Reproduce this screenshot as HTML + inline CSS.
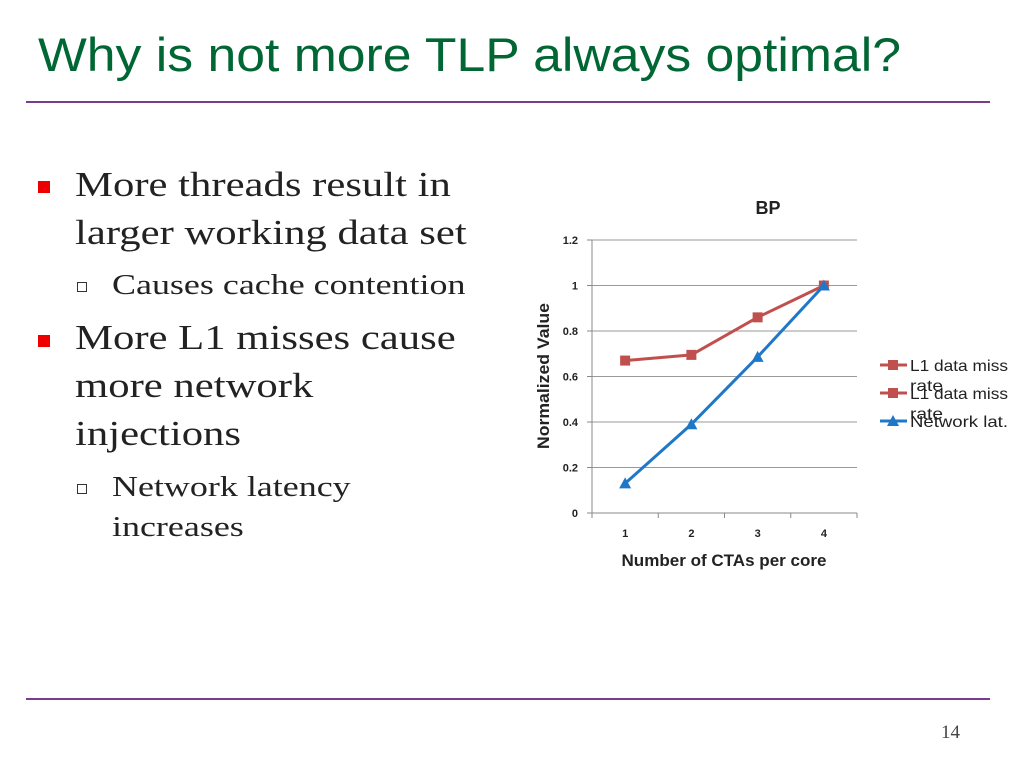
<!DOCTYPE html>
<html><head><meta charset="utf-8">
<style>
body{margin:0;width:1024px;height:768px;background:#fff;position:relative;overflow:hidden;font-family:"Liberation Serif",serif}
.t{position:absolute;color:#006633;font-family:"Liberation Sans",sans-serif;font-size:47px;left:38px;top:27px;white-space:nowrap;transform-origin:left top;transform:scaleX(1.1)}
.hr{position:absolute;left:26px;width:964px;height:2px;background:#7a3b8f}
.b{position:absolute;font-size:35px;color:#222;line-height:48px;white-space:nowrap;transform-origin:left top;transform:scaleX(1.22)}
.s{position:absolute;font-size:29px;color:#222;line-height:40px;white-space:nowrap;transform-origin:left top;transform:scaleX(1.24)}
.sq{position:absolute;width:12px;height:12px;background:#e00}
.sq2{position:absolute;width:8px;height:8px;border:1px solid #333}
</style></head><body>
<div class="t">Why is not more TLP always optimal?</div>
<div class="hr" style="top:101px"></div>
<div class="sq" style="left:38px;top:181px"></div>
<div class="b" style="left:75px;top:161px">More threads result in<br>larger working data set</div>
<div class="sq2" style="left:77px;top:282px"></div>
<div class="s" style="left:112px;top:265px">Causes cache contention</div>
<div class="sq" style="left:38px;top:335px"></div>
<div class="b" style="left:75px;top:314px">More L1 misses cause<br>more network<br>injections</div>
<div class="sq2" style="left:77px;top:484px"></div>
<div class="s" style="left:112px;top:467px">Network latency<br>increases</div>
<svg id="c" width="1024" height="768" style="position:absolute;left:0;top:0" font-family="Liberation Sans, sans-serif"></svg>
<div class="hr" style="top:698px"></div>
<div style="position:absolute;left:941px;top:722px;font-size:19px;color:#444">14</div>
<script>
const categories=["1","2","3","4"];
const l1Miss=[0.67,0.695,0.86,1.0];
const netLat=[0.13,0.39,0.686,1.0];
const yTicks=[0,0.2,0.4,0.6,0.8,1,1.2];
const yTickLabels=["0","0.2","0.4","0.6","0.8","1","1.2"];
const svg=document.getElementById('c');const NS='http://www.w3.org/2000/svg';
const L=592,R=857,T=240,B=513,yMax=1.2;
const x=i=>L+(R-L)/categories.length*(i+0.5);
const y=v=>B-(B-T)*v/yMax;
function mk(t,a,p){const e=document.createElementNS(NS,t);for(const k in a)e.setAttribute(k,a[k]);(p||svg).appendChild(e);return e;}
yTicks.forEach((v,i)=>{
 const g=mk('line',{x1:L,x2:R,y1:y(v),y2:y(v),stroke:i==0?'#888':'#999','stroke-width':1});
 
 mk('line',{x1:L-5,x2:L,y1:y(v),y2:y(v),stroke:'#888'});
 const t=mk('text',{x:L-14,y:y(v)+4,'font-size':11,'font-weight':'bold','text-anchor':'end',fill:'#222'});t.textContent=yTickLabels[i];
 
});
mk('line',{x1:L,x2:L,y1:T,y2:B,stroke:'#888'});
for(let i=0;i<=categories.length;i++){const xx=L+(R-L)/categories.length*i;mk('line',{x1:xx,x2:xx,y1:B,y2:B+5,stroke:'#888'});}
categories.forEach((c,i)=>{const t=mk('text',{x:x(i),y:537,'font-size':11,'font-weight':'bold','text-anchor':'middle',fill:'#222'});t.textContent=c;
 });
let t=mk('text',{x:768,y:214,'font-size':18,'font-weight':'bold','text-anchor':'middle',fill:'#222'});t.textContent='BP';

t=mk('text',{x:724,y:566,'font-size':17,'font-weight':'bold','text-anchor':'middle',fill:'#222',textLength:205,lengthAdjust:'spacingAndGlyphs'});t.textContent='Number of CTAs per core';

t=mk('text',{x:549,y:376,'font-size':17,'font-weight':'bold','text-anchor':'middle',fill:'#222',transform:'rotate(-90 549 376)',textLength:146,lengthAdjust:'spacingAndGlyphs'});t.textContent='Normalized Value';

function sq(cx,cy,col){return mk('rect',{x:cx-5,y:cy-5,width:10,height:10,fill:col});}
function tri(cx,cy,col){return mk('polygon',{points:`${cx},${cy-6} ${cx+6},${cy+5} ${cx-6},${cy+5}`,fill:col});}
function series(vals,col,mark,name){
 const p=mk('polyline',{points:vals.map((v,i)=>x(i)+','+y(v)).join(' '),fill:'none',stroke:col,'stroke-width':3});
 
 vals.forEach((v,i)=>{const m=mark(x(i),y(v),col);});
}
series(l1Miss,'#c0504d',sq,'l1-miss');
series(netLat,'#1f77c8',tri,'network-latency');
const leg=[['L1 data miss','rate','#c0504d',sq,365,98],['L1 data miss','rate','#c0504d',sq,393,98],['Network lat.','','#1f77c8',tri,421,98]];
leg.forEach(e=>{
 const g=mk('g',{});
 mk('line',{x1:880,x2:907,y1:e[4],y2:e[4],stroke:e[2],'stroke-width':3},g);
 g.appendChild(e[3](893,e[4],e[2]));
 let tt=mk('text',{x:910,y:e[4]+6,'font-size':16,fill:'#222',textLength:e[5],lengthAdjust:'spacingAndGlyphs'},g);tt.textContent=e[0];
 if(e[1]){tt=mk('text',{x:910,y:e[4]+26,'font-size':16,fill:'#222',textLength:33,lengthAdjust:'spacingAndGlyphs'},g);tt.textContent=e[1];}
});
</script>
</body></html>
